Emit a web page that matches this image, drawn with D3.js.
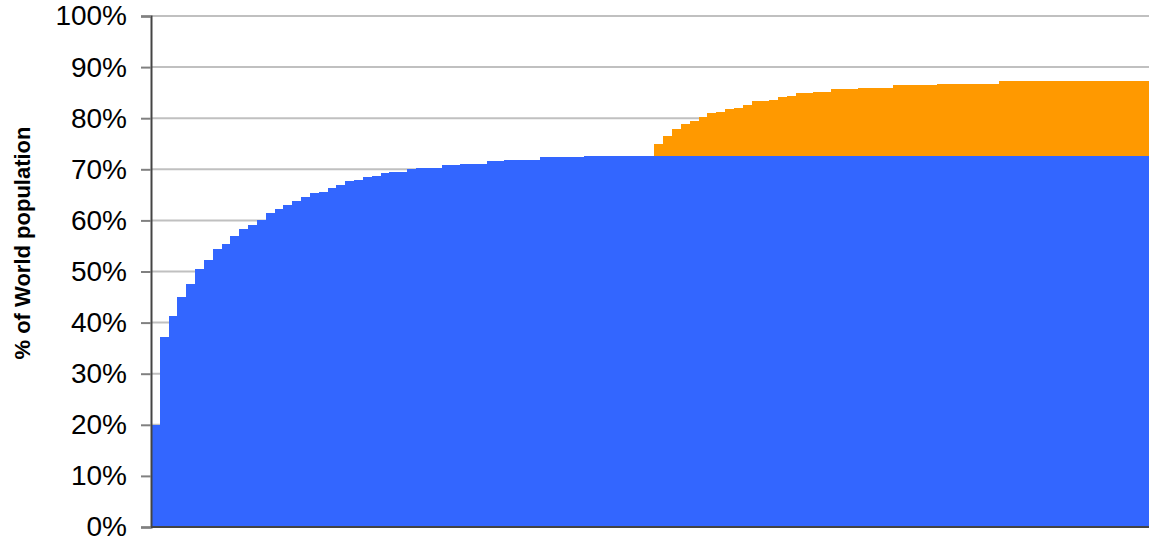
<!DOCTYPE html>
<html><head><meta charset="utf-8">
<script src="https://cdn.jsdelivr.net/npm/d3@7"></script>
<style>html,body{margin:0;padding:0;background:#fff;}svg{display:block;}</style>
</head><body>
<svg id="c" width="1149" height="541"></svg>
<script>
// Blue series: % of world population (first group), one value per bar
const blueValues = [
  20.0, 37.2, 41.3, 45.0, 47.6, 50.5, 52.3, 54.4, 55.4, 56.9,
  58.3, 59.1, 60.1, 61.4, 62.2, 63.0, 63.8, 64.6, 65.4, 65.6,
  66.3, 66.9, 67.7, 67.9, 68.5, 68.7, 69.3, 69.5, 69.5, 70.1,
  70.3, 70.3, 70.3, 70.8, 70.8, 71.0, 71.0, 71.0, 71.6, 71.6,
  71.8, 71.8, 71.8, 71.8, 72.4, 72.4, 72.4, 72.4, 72.4, 72.6,
  72.6, 72.6, 72.6, 72.6, 72.6, 72.6, 72.6, 72.6, 72.6, 72.6,
  72.6, 72.6, 72.6, 72.6, 72.6, 72.6, 72.6, 72.6, 72.6, 72.6,
  72.6, 72.6, 72.6, 72.6, 72.6, 72.6, 72.6, 72.6, 72.6, 72.6,
  72.6, 72.6, 72.6, 72.6, 72.6, 72.6, 72.6, 72.6, 72.6, 72.6,
  72.6, 72.6, 72.6, 72.6, 72.6, 72.6, 72.6, 72.6, 72.6, 72.6,
  72.6, 72.6, 72.6, 72.6, 72.6, 72.6, 72.6, 72.6, 72.6, 72.6,
  72.6, 72.6, 72.6
];
// Orange series: additional % of world population, stacked on blue
const orangeValues = [
  0, 0, 0, 0, 0, 0, 0, 0, 0, 0,
  0, 0, 0, 0, 0, 0, 0, 0, 0, 0,
  0, 0, 0, 0, 0, 0, 0, 0, 0, 0,
  0, 0, 0, 0, 0, 0, 0, 0, 0, 0,
  0, 0, 0, 0, 0, 0, 0, 0, 0, 0,
  0, 0, 0, 0, 0, 0, 0, 2.3, 3.9, 5.3,
  6.3, 6.9, 7.6, 8.4, 8.6, 9.2, 9.4, 10.0, 10.8, 10.8,
  11.0, 11.6, 11.7, 12.3, 12.3, 12.5, 12.5, 13.1, 13.1, 13.1,
  13.3, 13.3, 13.3, 13.3, 13.9, 13.9, 13.9, 13.9, 13.9, 14.1,
  14.1, 14.1, 14.1, 14.1, 14.1, 14.1, 14.7, 14.7, 14.7, 14.7,
  14.7, 14.7, 14.7, 14.7, 14.7, 14.7, 14.7, 14.7, 14.7, 14.7,
  14.7, 14.7, 14.7
];
const categories = blueValues.map((_, i) => i);
const yTicks = [0, 10, 20, 30, 40, 50, 60, 70, 80, 90, 100];
const seriesKeys = ["blue", "orange"];
const seriesColors = ["#3366FF", "#FF9900"];
const yTitle = "% of World population";

(function () {
const svg = d3.select("#c");
const mLeft = 151, mRight = 1149, mTop = 16, mBottom = 527;

const table = categories.map(i => ({ cat: i, blue: blueValues[i], orange: orangeValues[i] }));
const stacked = d3.stack().keys(seriesKeys)(table);

const x = d3.scaleBand().domain(categories).range([mLeft, mRight]).padding(0);
const y = d3.scaleLinear().domain([0, 100]).range([mBottom, mTop]);

// gridlines
svg.append("g").selectAll("line").data(yTicks.filter(t => t > 0)).join("line")
  .attr("x1", mLeft).attr("x2", mRight)
  .attr("y1", d => y(d)).attr("y2", d => y(d))
  .attr("stroke", "#c0c0c0").attr("stroke-width", 2);

// bars
svg.append("g").selectAll("g").data(stacked).join("g")
  .attr("fill", (d, i) => seriesColors[i])
  .selectAll("rect").data(d => d).join("rect")
  .attr("x", d => x(d.data.cat))
  .attr("width", x.bandwidth() + 0.6)
  .attr("y", d => y(d[1]))
  .attr("height", d => Math.max(0, y(d[0]) - y(d[1])))
  .attr("shape-rendering", "crispEdges");

// y axis
const yAxis = d3.axisLeft(y).tickValues(yTicks).tickFormat(d => d + "%").tickSize(10).tickPadding(14);
const ga = svg.append("g").attr("transform", `translate(${mLeft},0)`).call(yAxis);
ga.select(".domain").attr("stroke", "#444").attr("stroke-width", 2);
ga.selectAll(".tick line").attr("stroke", "#808080").attr("stroke-width", 2);
ga.selectAll(".tick text").attr("font-family", "Liberation Sans, Arial, sans-serif")
  .attr("font-size", 28).attr("fill", "#000");

// x axis baseline
svg.append("line").attr("x1", mLeft).attr("x2", mRight)
  .attr("y1", y(0)).attr("y2", y(0)).attr("stroke", "#444").attr("stroke-width", 2);

// y title
svg.append("text").attr("transform", "translate(30,243) rotate(-90)")
  .attr("text-anchor", "middle").attr("font-family", "Liberation Sans, Arial, sans-serif")
  .attr("font-weight", "bold").attr("font-size", 22).attr("fill", "#000").text(yTitle);
})();
</script>
</body></html>
